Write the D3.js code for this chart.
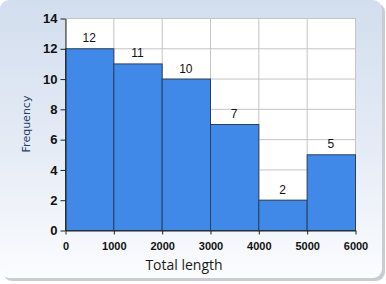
<!DOCTYPE html>
<html>
<head>
<meta charset="utf-8">
<script src="https://cdn.jsdelivr.net/npm/d3@7"></script>
<style>
  html, body { margin: 0; padding: 0; background: #ffffff; }
  svg { display: block; }
</style>
</head>
<body>
<svg></svg>
<script>
  // Histogram data
  const binStarts = [0, 1000, 2000, 3000, 4000, 5000];
  const binEnds = [1000, 2000, 3000, 4000, 5000, 6000];
  const counts = [12, 11, 10, 7, 2, 5];
  const xTicks = [0, 1000, 2000, 3000, 4000, 5000, 6000];
  const yTicks = [0, 2, 4, 6, 8, 10, 12, 14];

  const width = 386,
    height = 284,
    plotL = 65,
    plotR = 355,
    plotT = 18,
    plotB = 230;

  const svg = d3.select("svg")
    .attr("width", width)
    .attr("height", height);

  const defs = svg.append("defs");

  const grad = defs.append("linearGradient")
    .attr("id", "bg")
    .attr("x1", 0).attr("y1", 0)
    .attr("x2", 0).attr("y2", 1);
  grad.append("stop").attr("offset", "0%").attr("stop-color", "#d2deee");
  grad.append("stop").attr("offset", "55%").attr("stop-color", "#e6ecf6");
  grad.append("stop").attr("offset", "100%").attr("stop-color", "#fbfcfe");

  // Panel shadow + panel
  svg.append("rect")
    .attr("x", 3).attr("y", 3)
    .attr("width", 382).attr("height", 278)
    .attr("rx", 9)
    .attr("fill", "#c9ccd2");

  svg.append("rect")
    .attr("x", 0).attr("y", 0)
    .attr("width", 382).attr("height", 278)
    .attr("rx", 9)
    .attr("fill", "url(#bg)");

  const x = d3.scaleLinear().domain([0, 6000]).range([plotL, plotR]);
  const y = d3.scaleLinear().domain([0, 14]).range([plotB, plotT]);

  // Plot background
  svg.append("rect")
    .attr("x", plotL).attr("y", plotT)
    .attr("width", plotR - plotL).attr("height", plotB - plotT)
    .attr("fill", "#ffffff");

  // Gridlines
  svg.append("g")
    .selectAll("line")
    .data(yTicks)
    .enter().append("line")
    .attr("x1", plotL).attr("x2", plotR)
    .attr("y1", d => y(d) + 0.5).attr("y2", d => y(d) + 0.5)
    .attr("stroke", "#c4c4c4");

  svg.append("g")
    .selectAll("line")
    .data(xTicks)
    .enter().append("line")
    .attr("x1", d => x(d) + 0.5).attr("x2", d => x(d) + 0.5)
    .attr("y1", plotT).attr("y2", plotB)
    .attr("stroke", "#c4c4c4");

  // Bars
  svg.append("g")
    .selectAll("rect")
    .data(counts)
    .enter().append("rect")
    .attr("x", (d, i) => x(binStarts[i]) + 0.5)
    .attr("y", d => y(d) + 0.5)
    .attr("width", (d, i) => x(binEnds[i]) - x(binStarts[i]))
    .attr("height", d => plotB - y(d))
    .attr("fill", "#4189e9")
    .attr("stroke", "#2b3f5c")
    .attr("stroke-width", 1);

  // Bar labels
  svg.append("g")
    .selectAll("text")
    .data(counts)
    .enter().append("text")
    .attr("x", (d, i) => (x(binStarts[i]) + x(binEnds[i])) / 2)
    .attr("y", d => y(d) - 6)
    .attr("text-anchor", "middle")
    .attr("font-family", "Liberation Sans, Arial, sans-serif")
    .attr("font-size", 12)
    .attr("fill", "#111")
    .text(d => d);

  // Axes
  const xAxis = svg.append("g")
    .attr("transform", `translate(0.5,${plotB + 0.5})`)
    .call(d3.axisBottom(x).tickValues(xTicks).tickFormat(d3.format("d")).tickSize(4).tickSizeOuter(0));
  xAxis.select(".domain").attr("stroke", "#222");
  xAxis.selectAll(".tick line").attr("stroke", "#222");
  xAxis.selectAll("text")
    .attr("font-family", "Liberation Sans, Arial, sans-serif")
    .attr("font-size", 11)
    .attr("font-weight", "bold")
    .attr("fill", "#111")
    .attr("dy", "1.1em");

  const yAxis = svg.append("g")
    .attr("transform", `translate(${plotL + 0.5},0.5)`)
    .call(d3.axisLeft(y).tickValues(yTicks).tickSize(5).tickSizeOuter(0));
  yAxis.select(".domain").attr("stroke", "#222");
  yAxis.selectAll(".tick line").attr("stroke", "#222");
  yAxis.selectAll("text")
    .attr("font-family", "Liberation Sans, Arial, sans-serif")
    .attr("font-size", 13)
    .attr("font-weight", "bold")
    .attr("fill", "#111")
    .attr("x", -8);

  // Axis titles
  svg.append("text")
    .attr("x", 184)
    .attr("y", 270)
    .attr("text-anchor", "middle")
    .attr("font-family", "Open Sans, Noto Sans, sans-serif")
    .attr("font-size", 14)
    .attr("fill", "#1a1a1a")
    .text("Total length");

  svg.append("text")
    .attr("transform", `translate(30,${(plotT + plotB) / 2}) rotate(-90)`)
    .attr("text-anchor", "middle")
    .attr("font-family", "DejaVu Sans, sans-serif")
    .attr("font-size", 11)
    .attr("fill", "#1f3f6a")
    .text("Frequency");
</script>
</body>
</html>
